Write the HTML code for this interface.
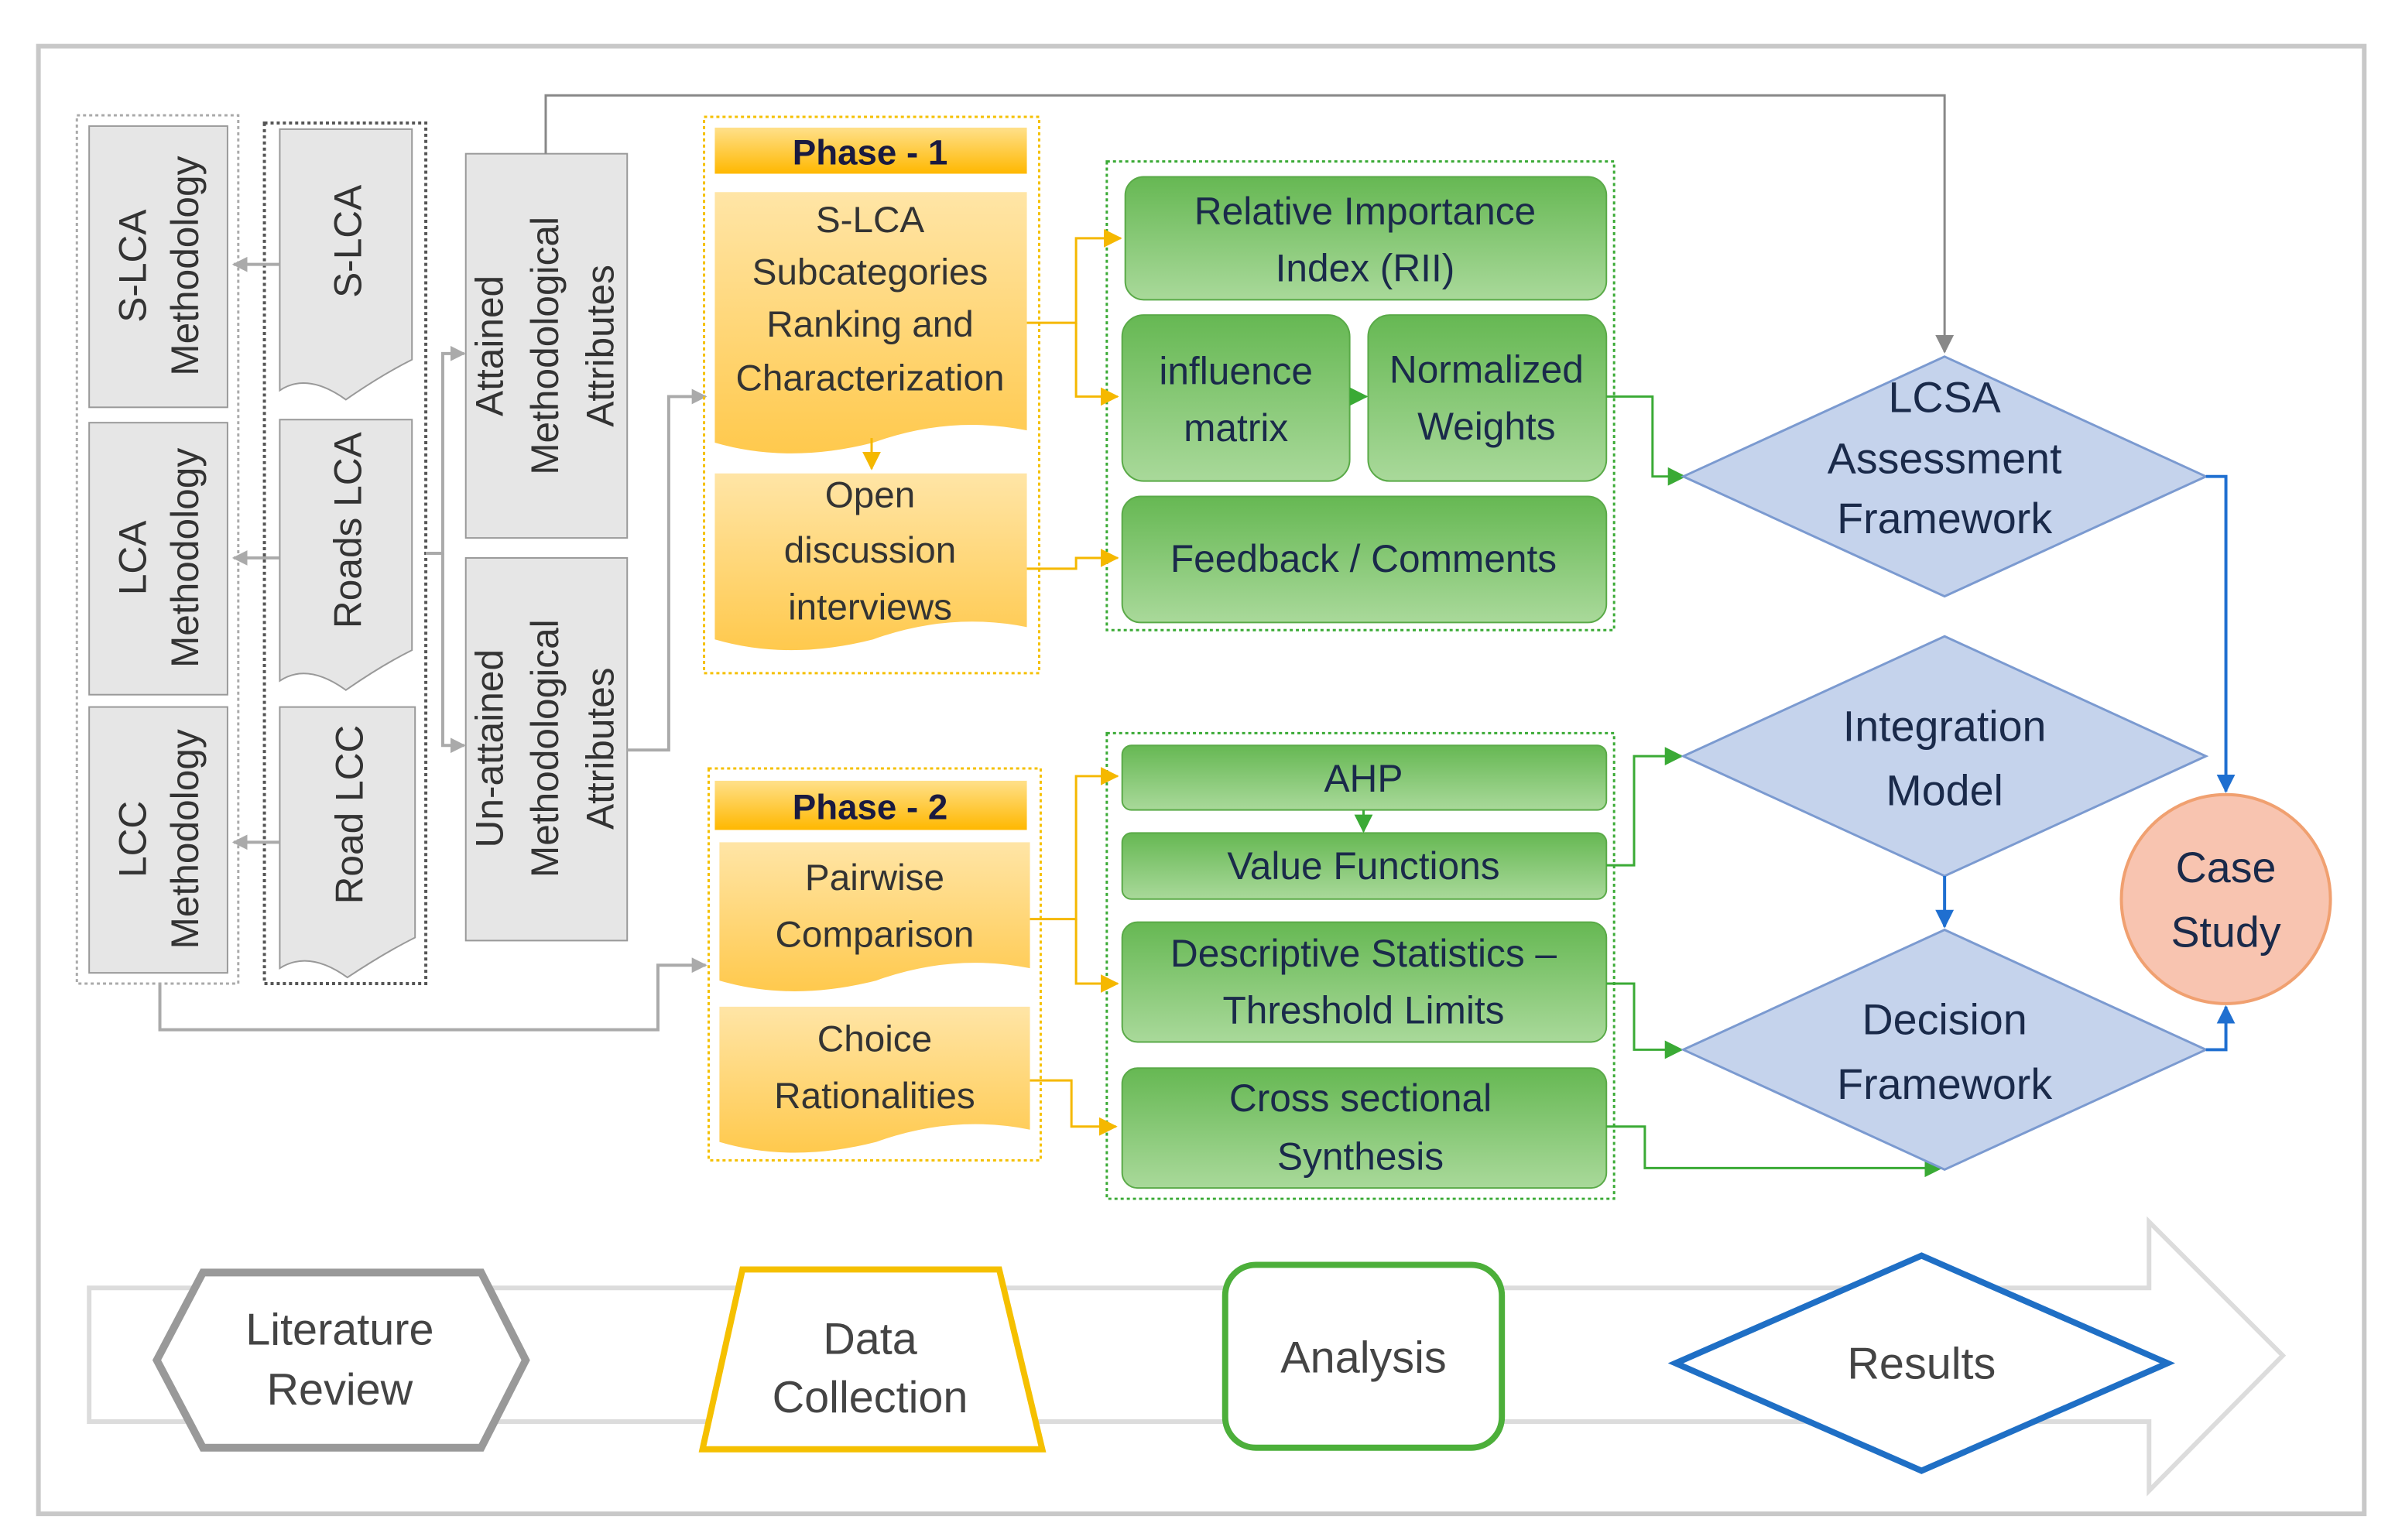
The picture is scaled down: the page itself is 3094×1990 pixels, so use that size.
<!DOCTYPE html>
<html><head><meta charset="utf-8"><style>
html,body{margin:0;padding:0;background:#fff;}
svg{display:block;}
text{font-family:"Liberation Sans",sans-serif;}
</style></head><body>
<svg width="3094" height="1990" viewBox="0 0 1558 1002" xmlns="http://www.w3.org/2000/svg">
<defs>
<linearGradient id="gr" x1="0" y1="0" x2="0" y2="1"><stop offset="0" stop-color="#66b853"/><stop offset="1" stop-color="#a9d99a"/></linearGradient>
<linearGradient id="or" x1="0" y1="0" x2="0" y2="1"><stop offset="0" stop-color="#ffe5a6"/><stop offset="1" stop-color="#ffc94d"/></linearGradient>
<linearGradient id="hd" x1="0" y1="0" x2="0" y2="1"><stop offset="0" stop-color="#ffe08a"/><stop offset="1" stop-color="#ffb800"/></linearGradient>
<marker id="ag" markerWidth="10" markerHeight="10" refX="9" refY="5" orient="auto" markerUnits="userSpaceOnUse"><path d="M0,0 L10,5 L0,10z" fill="#aaa"/></marker>
<marker id="ao" markerWidth="12" markerHeight="12" refX="11" refY="6" orient="auto" markerUnits="userSpaceOnUse"><path d="M0,0 L12,6 L0,12z" fill="#f5b800"/></marker>
<marker id="an" markerWidth="12" markerHeight="12" refX="11" refY="6" orient="auto" markerUnits="userSpaceOnUse"><path d="M0,0 L12,6 L0,12z" fill="#3aaa35"/></marker>
<marker id="ab" markerWidth="12" markerHeight="12" refX="11" refY="6" orient="auto" markerUnits="userSpaceOnUse"><path d="M0,0 L12,6 L0,12z" fill="#1f6fd0"/></marker>
<marker id="ad" markerWidth="12" markerHeight="12" refX="11" refY="6" orient="auto" markerUnits="userSpaceOnUse"><path d="M0,0 L12,6 L0,12z" fill="#888"/></marker>
</defs>
<rect x="0" y="0" width="1558" height="1002" fill="#fff"/>
<rect x="25" y="30" width="1513" height="955" fill="none" stroke="#c8c8c8" stroke-width="3"/>

<!-- left groups -->
<rect x="50" y="75" width="105" height="565" fill="none" stroke="#aaa" stroke-width="1.5" stroke-dasharray="2,2"/>
<rect x="172" y="80" width="105" height="560" fill="none" stroke="#555" stroke-width="2" stroke-dasharray="2,2"/>
<g fill="#e6e6e6" stroke="#999" stroke-width="1">
<rect x="58" y="82" width="90" height="183"/><rect x="58" y="275" width="90" height="177"/><rect x="58" y="460" width="90" height="173"/>
<path d="M182,84 h86 v150 q-20,10 -43,26 q-25,-18 -43,-6 z"/>
<path d="M182,273 h86 v150 q-20,10 -43,26 q-25,-18 -43,-6 z"/>
<path d="M182,460 h88 v150 q-20,10 -44,26 q-25,-18 -44,-6 z"/>
<rect x="303" y="100" width="105" height="250"/><rect x="303" y="363" width="105" height="249"/>
</g>
<g font-size="25" fill="#333" text-anchor="middle">
<text transform="translate(103,173) rotate(-90)"><tspan x="0" y="-8">S-LCA</tspan><tspan x="0" y="26">Methodology</tspan></text>
<text transform="translate(103,363) rotate(-90)"><tspan x="0" y="-8">LCA</tspan><tspan x="0" y="26">Methodology</tspan></text>
<text transform="translate(103,546) rotate(-90)"><tspan x="0" y="-8">LCC</tspan><tspan x="0" y="26">Methodology</tspan></text>
<text transform="translate(235,157) rotate(-90)">S-LCA</text>
<text transform="translate(235,345) rotate(-90)">Roads LCA</text>
<text transform="translate(236,530) rotate(-90)">Road LCC</text>
<text transform="translate(355,225) rotate(-90)"><tspan x="0" y="-28">Attained</tspan><tspan x="0" y="8">Methodological</tspan><tspan x="0" y="44">Attributes</tspan></text>
<text transform="translate(355,487) rotate(-90)"><tspan x="0" y="-28">Un-attained</tspan><tspan x="0" y="8">Methodological</tspan><tspan x="0" y="44">Attributes</tspan></text>
</g>
<!-- gray connectors -->
<g fill="none" stroke="#aaa" stroke-width="2">
<path d="M182,172 H152" marker-end="url(#ag)"/>
<path d="M182,363 H152" marker-end="url(#ag)"/>
<path d="M182,548 H152" marker-end="url(#ag)"/>
<path d="M277,360 H288 V230 H302" marker-end="url(#ag)"/>
<path d="M288,360 V485 H302" marker-end="url(#ag)"/>
<path d="M408,488 H435 V258 H459" marker-end="url(#ag)"/>
<path d="M104,640 V670 H428 V628 H459" marker-end="url(#ag)"/>
</g>
<path d="M355,100 V62 H1265 V229" fill="none" stroke="#888" stroke-width="1.5" marker-end="url(#ad)"/>

<!-- phase 1 -->
<rect x="458" y="76" width="218" height="362" fill="none" stroke="#f5c000" stroke-width="1.5" stroke-dasharray="2,2"/>
<rect x="465" y="83" width="203" height="30" fill="url(#hd)"/>
<text x="566" y="107" font-size="23" font-weight="bold" fill="#1a1a40" text-anchor="middle">Phase - 1</text>
<path d="M465,125 h203 v155 q-50,-10 -100,8 q-55,14 -103,0 z" fill="url(#or)"/>
<path d="M465,308 h203 v100 q-50,-10 -100,8 q-55,14 -103,0 z" fill="url(#or)"/>
<g font-size="24" fill="#333" text-anchor="middle">
<text x="566" y="151">S-LCA</text><text x="566" y="185">Subcategories</text><text x="566" y="219">Ranking and</text><text x="566" y="254">Characterization</text>
<text x="566" y="330">Open</text><text x="566" y="366">discussion</text><text x="566" y="403">interviews</text>
</g>
<!-- phase 2 -->
<rect x="461" y="500" width="216" height="255" fill="none" stroke="#f5c000" stroke-width="1.5" stroke-dasharray="2,2"/>
<rect x="465" y="508" width="203" height="32" fill="url(#hd)"/>
<text x="566" y="533" font-size="23" font-weight="bold" fill="#1a1a40" text-anchor="middle">Phase - 2</text>
<path d="M468,548 h202 v82 q-50,-10 -100,8 q-55,14 -102,0 z" fill="url(#or)"/>
<path d="M468,655 h202 v80 q-50,-10 -100,8 q-55,14 -102,0 z" fill="url(#or)"/>
<g font-size="24" fill="#333" text-anchor="middle">
<text x="569" y="579">Pairwise</text><text x="569" y="616">Comparison</text>
<text x="569" y="684">Choice</text><text x="569" y="721">Rationalities</text>
</g>

<!-- green groups -->
<rect x="720" y="105" width="330" height="305" fill="none" stroke="#3aaa35" stroke-width="1.5" stroke-dasharray="2,2"/>
<rect x="720" y="477" width="330" height="303" fill="none" stroke="#3aaa35" stroke-width="1.5" stroke-dasharray="2,2"/>
<g fill="url(#gr)" stroke="#5aaa48" stroke-width="1">
<rect x="732" y="115" width="313" height="80" rx="12"/>
<rect x="730" y="205" width="148" height="108" rx="14"/>
<rect x="890" y="205" width="155" height="108" rx="14"/>
<rect x="730" y="323" width="315" height="82" rx="12"/>
<rect x="730" y="485" width="315" height="42" rx="6"/>
<rect x="730" y="542" width="315" height="43" rx="6"/>
<rect x="730" y="600" width="315" height="78" rx="10"/>
<rect x="730" y="695" width="315" height="78" rx="10"/>
</g>
<g font-size="25" fill="#1a2a4a" text-anchor="middle">
<text x="888" y="146">Relative Importance</text><text x="888" y="183">Index (RII)</text>
<text x="804" y="250">influence</text><text x="804" y="287">matrix</text>
<text x="967" y="249">Normalized</text><text x="967" y="286">Weights</text>
<text x="887" y="372">Feedback / Comments</text>
<text x="887" y="515">AHP</text>
<text x="887" y="572">Value Functions</text>
<text x="887" y="629">Descriptive Statistics –</text><text x="887" y="666">Threshold Limits</text>
<text x="885" y="723">Cross sectional</text><text x="885" y="761">Synthesis</text>
</g>

<!-- orange connectors -->
<g fill="none" stroke="#f5b800" stroke-width="1.5">
<path d="M668,210 H700 V155 H729" marker-end="url(#ao)"/>
<path d="M700,210 V258 H727" marker-end="url(#ao)"/>
<path d="M668,370 H700 V363 H727" marker-end="url(#ao)"/>
<path d="M567,285 V305" marker-end="url(#ao)"/>
<path d="M670,598 H700 V505 H727" marker-end="url(#ao)"/>
<path d="M700,598 V640 H727" marker-end="url(#ao)"/>
<path d="M670,703 H697 V733 H726" marker-end="url(#ao)"/>
</g>
<!-- green connectors -->
<g fill="none" stroke="#3aaa35" stroke-width="1.5">
<path d="M878,258 H889" marker-end="url(#an)"/>
<path d="M887,527 V541" marker-end="url(#an)"/>
<path d="M1045,258 H1075 V310 H1096" marker-end="url(#an)"/>
<path d="M1045,563 H1063 V492 H1094" marker-end="url(#an)"/>
<path d="M1045,640 H1063 V683 H1094" marker-end="url(#an)"/>
<path d="M1045,733 H1070 V760 H1263" marker-end="url(#an)"/>
</g>

<!-- diamonds -->
<g fill="#c5d3ec" stroke="#7b9ad0" stroke-width="1.5">
<path d="M1265,232 L1435,310 L1265,388 L1095,310z"/>
<path d="M1265,414 L1435,492 L1265,570 L1095,492z"/>
<path d="M1265,605 L1435,683 L1265,761 L1095,683z"/>
</g>
<circle cx="1448" cy="585" r="68" fill="#f8c4b0" stroke="#f0a070" stroke-width="2"/>
<g font-size="28" fill="#1a2a4a" text-anchor="middle">
<text x="1265" y="268">LCSA</text><text x="1265" y="308">Assessment</text><text x="1265" y="347">Framework</text>
<text x="1265" y="482">Integration</text><text x="1265" y="524">Model</text>
<text x="1265" y="673">Decision</text><text x="1265" y="715">Framework</text>
<text x="1448" y="574">Case</text><text x="1448" y="616">Study</text>
</g>
<g fill="none" stroke="#1f6fd0" stroke-width="2">
<path d="M1435,310 H1448 V515" marker-end="url(#ab)"/>
<path d="M1435,683 H1448 V655" marker-end="url(#ab)"/>
<path d="M1265,570 V603" marker-end="url(#ab)"/>
</g>

<!-- bottom legend arrow -->
<path d="M58,838 H1398 V795 L1485,882 L1398,970 V925 H58 Z" fill="#fff" stroke="#dcdcdc" stroke-width="3"/>
<path d="M102,885 L132,828 H313 L342,885 L313,942 H132 Z" fill="#fff" stroke="#999" stroke-width="5"/>
<path d="M483,826 H650 L678,943 H457 Z" fill="#fff" stroke="#f5c000" stroke-width="4"/>
<rect x="797" y="823" width="180" height="119" rx="20" fill="#fff" stroke="#4caf3a" stroke-width="4"/>
<path d="M1250,817 L1410,887 L1250,957 L1090,887 Z" fill="#fff" stroke="#1f6fc5" stroke-width="4"/>
<g font-size="29" fill="#444" text-anchor="middle">
<text x="221" y="875">Literature</text><text x="221" y="914">Review</text>
<text x="566" y="881">Data</text><text x="566" y="919">Collection</text>
<text x="887" y="893">Analysis</text>
<text x="1250" y="897">Results</text>
</g>
</svg>
</body></html>
